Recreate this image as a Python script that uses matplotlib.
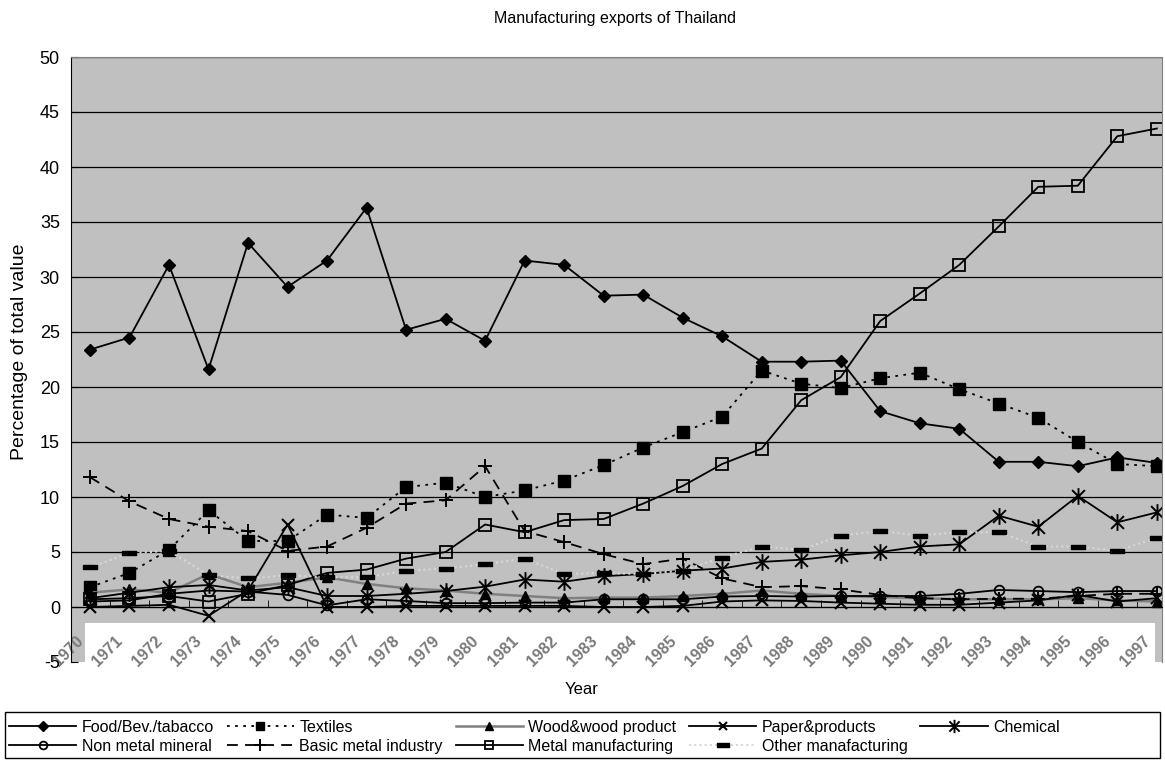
import matplotlib
matplotlib.use("Agg")
import matplotlib.pyplot as plt
import matplotlib.transforms as mtransforms
from matplotlib.path import Path
from matplotlib.patches import Rectangle

plt.rcParams['font.family'] = ['Liberation Sans', 'DejaVu Sans']
plt.rcParams['axes.unicode_minus'] = False

years = [str(y) for y in range(1970, 1998)]

food = [23.4, 24.5, 31.1, 21.6, 33.1, 29.1, 31.5, 36.3, 25.2, 26.2, 24.2, 31.5, 31.1, 28.3,
        28.4, 26.3, 24.6, 22.3, 22.3, 22.4, 17.8, 16.7, 16.2, 13.2, 13.2, 12.8, 13.6, 13.1]
textiles = [1.8, 3.1, 5.2, 8.8, 6.0, 6.0, 8.4, 8.1, 10.9, 11.3, 10.0, 10.6, 11.5, 12.9,
            14.5, 15.9, 17.3, 21.5, 20.3, 19.9, 20.8, 21.3, 19.8, 18.5, 17.2, 15.0, 13.0, 12.8]
wood = [1.3, 1.6, 1.3, 3.0, 1.8, 2.2, 2.7, 2.1, 1.7, 1.5, 1.2, 1.0, 0.8, 0.85,
        0.85, 1.0, 1.2, 1.5, 1.2, 1.0, 0.9, 0.8, 0.7, 0.7, 0.7, 0.8, 0.6, 0.5]
paper = [0.0, 0.1, 0.2, -0.8, 1.5, 7.5, 0.0, 0.0, 0.1, 0.1, 0.1, 0.1, 0.1, 0.0,
         0.0, 0.1, 0.5, 0.6, 0.55, 0.4, 0.3, 0.2, 0.2, 0.4, 0.6, 1.1, 0.5, 0.8]
chemical = [0.8, 1.3, 1.8, 2.0, 1.5, 1.8, 1.0, 1.0, 1.2, 1.45, 1.85, 2.5, 2.3, 2.8,
            3.0, 3.3, 3.5, 4.1, 4.3, 4.7, 5.0, 5.5, 5.7, 8.3, 7.3, 10.1, 7.7, 8.6]
nonmetal = [0.5, 0.6, 1.2, 1.5, 1.4, 1.1, 0.15, 0.7, 0.55, 0.35, 0.35, 0.4, 0.4, 0.7,
            0.7, 0.7, 0.95, 1.0, 0.95, 1.0, 1.0, 1.0, 1.2, 1.55, 1.45, 1.35, 1.45, 1.45]
basic = [11.8, 9.6, 8.0, 7.3, 6.9, 5.1, 5.5, 7.2, 9.4, 9.7, 12.8, 6.9, 5.9, 4.8,
         3.9, 4.4, 2.6, 1.8, 1.9, 1.6, 1.1, 0.8, 0.7, 0.75, 0.75, 1.0, 1.2, 1.2]
metal = [0.7, 0.8, 1.0, 0.5, 1.2, 2.0, 3.1, 3.4, 4.4, 5.0, 7.5, 6.8, 7.9, 8.0,
         9.4, 11.0, 13.0, 14.4, 18.8, 20.9, 26.0, 28.5, 31.1, 34.6, 38.2, 38.3, 42.8, 43.5]
other = [3.6, 4.9, 5.1, 2.9, 2.6, 2.9, 2.7, 2.7, 3.3, 3.5, 3.9, 4.4, 3.0, 3.1,
         3.0, 3.3, 4.5, 5.5, 5.2, 6.5, 6.9, 6.5, 6.8, 6.8, 5.5, 5.5, 5.1, 6.3]
yticks = list(range(-5, 51, 5))

# excel style markers
star = Path([(-1, -1), (1, 1), (-1, 1), (1, -1), (0, -1.3), (0, 1.3)],
            [Path.MOVETO, Path.LINETO, Path.MOVETO, Path.LINETO, Path.MOVETO, Path.LINETO])
dash = Path([(-1, -0.35), (1, -0.35), (1, 0.35), (-1, 0.35), (-1, -0.35)],
            [Path.MOVETO, Path.LINETO, Path.LINETO, Path.LINETO, Path.CLOSEPOLY])

fig = plt.figure(figsize=(11.65, 7.6), dpi=100)
ax = fig.add_axes([71/1165, 1-662/760, 1091/1165, 605/760])
ax.set_facecolor('#c0c0c0')

x = list(range(len(years)))
lines = {}
lines['food'] = ax.plot(x, food, color='black', lw=1.3, marker='D', ms=6, mfc='black', mec='black',
                        label='Food/Bev./tabacco')[0]
lines['textiles'] = ax.plot(x, textiles, color='black', lw=1.3, ls=(0, (1.5, 3)), marker='s', ms=8,
                            mfc='black', mec='black', label='Textiles')[0]
lines['wood'] = ax.plot(x, wood, color='#808080', lw=1.8, marker='^', ms=7, mfc='black', mec='black',
                        label='Wood&wood product')[0]
lines['paper'] = ax.plot(x, paper, color='black', lw=1.3, marker='x', ms=8, mew=1.5, mec='black',
                         label='Paper&products')[0]
lines['chemical'] = ax.plot(x, chemical, color='black', lw=1.3, marker=star, ms=12, mew=1.4,
                            mec='black', label='Chemical')[0]
lines['nonmetal'] = ax.plot(x, nonmetal, color='black', lw=1.3, marker='o', ms=7, mfc='none',
                            mec='black', mew=1.3, label='Non metal mineral')[0]
lines['basic'] = ax.plot(x, basic, color='black', lw=1.3, ls=(0, (6, 4)), marker='+', ms=10, mew=1.4,
                         mec='black', label='Basic metal industry')[0]
lines['metal'] = ax.plot(x, metal, color='black', lw=1.3, marker='s', ms=8, mfc='none', mec='black',
                         mew=1.3, label='Metal manufacturing')[0]
lines['other'] = ax.plot(x, other, color='#d8d8d8', lw=1.5, ls=(0, (1, 1.5)), marker=dash, ms=10,
                         mfc='black', mec='black', label='Other manafacturing')[0]

ax.set_xlim(-0.48, 27.13)
ax.set_ylim(-5, 50)
ax.set_yticks(yticks)
ax.yaxis.grid(True, color='black', lw=0.9)
for gl, v in zip(ax.get_ygridlines(), yticks):
    if v < 0:
        gl.set_visible(False)
ax.tick_params(axis='y', direction='in', length=5, labelsize=13, pad=8)

ax.spines['bottom'].set_position(('data', 0))
ax.spines['top'].set_color('#808080')
ax.spines['right'].set_color('#808080')
ax.set_xticks(x)
ax.set_xticks([i + 0.5 for i in range(len(years) - 1)], minor=True)
ax.set_xticklabels(years, rotation=45, ha='right', va='center', rotation_mode='anchor',
                   fontsize=11.5, fontweight='bold', color='#7a7a7a')
ax.tick_params(axis='x', which='major', length=0, pad=21)
ax.tick_params(axis='x', which='minor', direction='in', length=5)
shift = mtransforms.ScaledTranslation(-0.09, -0.02, fig.dpi_scale_trans)
for lab in ax.get_xticklabels():
    lab.set_transform(lab.get_transform() + shift)

# white band behind the year labels
ax.add_patch(Rectangle((-0.13, -6.0), 27.08, 4.55, facecolor='white', edgecolor='none',
                       clip_on=False, zorder=1.4))

fig.text(615/1165, 1-18/760, 'Manufacturing exports of Thailand', ha='center', va='center',
         fontsize=11.5)
fig.text(20/1165, 1-352/760, 'Percentage of total value', rotation=90, ha='center', va='center',
         fontsize=14)
fig.text(582/1165, 1-690/760, 'Year', ha='center', va='center', fontsize=12)

# legend frame drawn by hand, entries packed like excel
fig.add_artist(Rectangle((5/1165, 2/760), 1155/1165, 46/760, transform=fig.transFigure,
                         facecolor='white', edgecolor='black', lw=1.0))
order = ['food', 'nonmetal', 'textiles', 'basic', 'wood', 'metal', 'paper', 'other', 'chemical']
handles = [lines[k] for k in order]
leg = fig.legend(handles, [h.get_label() for h in handles], loc='lower left',
                 bbox_to_anchor=(5/1165, 2/760), ncol=5, fontsize=11.5, frameon=False,
                 borderaxespad=0, handlelength=4.2, handletextpad=0.35, labelspacing=0.25,
                 borderpad=0.25, columnspacing=0.8, markerscale=0.8)

fig.savefig('out.png', dpi=100)
